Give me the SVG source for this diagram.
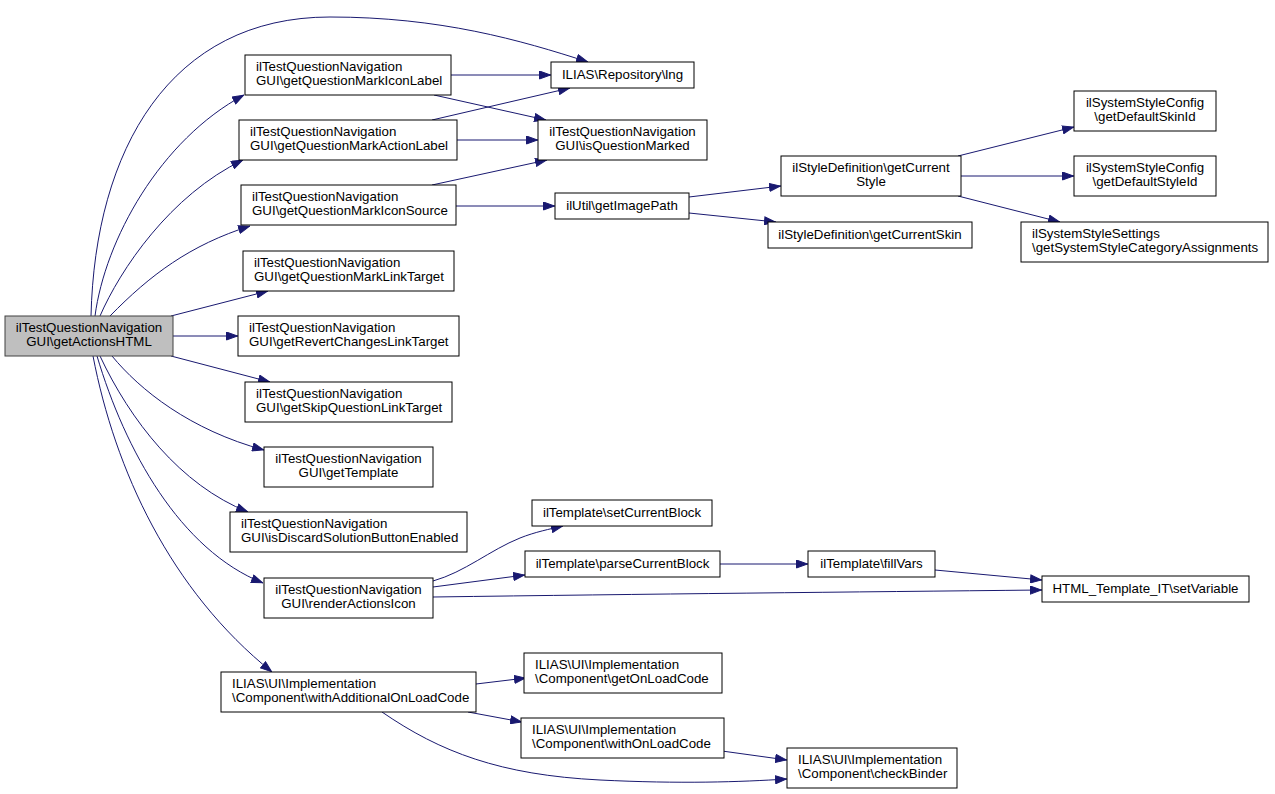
<svg xmlns="http://www.w3.org/2000/svg" width="1275" height="794" viewBox="0 0 1275 794">
<style>
.n rect{fill:#fff;stroke:#000;stroke-width:1}
.n.root rect{fill:#bfbfbf;stroke:#404040}
.n text{font-family:"Liberation Sans",Arial,sans-serif;font-size:13.3px;fill:#000}
.c{text-anchor:middle}
.e path{fill:none;stroke:#191970;stroke-width:1;marker-end:url(#ah)}
</style>
<defs>
<marker id="ah" markerUnits="userSpaceOnUse" markerWidth="12" markerHeight="9" refX="12" refY="4.5" orient="auto">
<path d="M0.5,0.5 L11.5,4.5 L0.5,8.5 z" fill="#191970" stroke="#191970" stroke-width="1"/>
</marker>
</defs>
<rect width="1275" height="794" fill="#fff"/>
<g id="edges" class="e">
<path d="M 91,316 C 95,150 170,17 330,17 C 440,17 520,40 588,62"/>
<path d="M 95,316 C 105,240 160,140 244,95"/>
<path d="M 100,316 C 120,270 170,195 243,160"/>
<path d="M 110,316 C 150,275 190,245 250,226"/>
<path d="M 171,316 L 268,291"/>
<path d="M 173,336 L 238,336"/>
<path d="M 171,356 L 270,382"/>
<path d="M 112,356 C 140,390 190,430 264,450"/>
<path d="M 100,356 C 130,420 180,485 248,512"/>
<path d="M 97,356 C 125,450 180,550 263,583"/>
<path d="M 93,356 C 115,470 170,590 272,672"/>
<path d="M 451,75 L 551,75"/>
<path d="M 434,95 L 546,120"/>
<path d="M 432,120 L 570,88"/>
<path d="M 457,140 L 538,140"/>
<path d="M 432,185 L 547,160"/>
<path d="M 456,206 L 555,206"/>
<path d="M 689,197 L 781,186"/>
<path d="M 689,213 L 776,222"/>
<path d="M 958,156 L 1074,127"/>
<path d="M 961,176 L 1074,176"/>
<path d="M 958,196 L 1060,222"/>
<path d="M 433,581 C 465,572 490,550 520,538 C 535,532 550,529 563,526"/>
<path d="M 433,587 L 525,575"/>
<path d="M 433,597 C 650,594 850,592 1042,590"/>
<path d="M 720,564 L 808,564"/>
<path d="M 935,570 L 1042,580"/>
<path d="M 476,684 L 526,678"/>
<path d="M 468,712 L 522,722"/>
<path d="M 382,712 C 440,752 500,775 600,780 C 680,784 740,782 787,779"/>
<path d="M 722,751 L 787,760"/>
</g>
<g id="getActionsHTML" class="n root"><rect x="5" y="316" width="168" height="40"/><text class="c" x="89" y="332.3">ilTestQuestionNavigation</text><text class="c" x="89" y="346.3">GUI\getActionsHTML</text></g>
<g id="getQuestionMarkIconLabel" class="n"><rect x="245" y="55" width="206" height="40"/><text x="256" y="71.3">ilTestQuestionNavigation</text><text x="256" y="85.3">GUI\getQuestionMarkIconLabel</text></g>
<g id="getQuestionMarkActionLabel" class="n"><rect x="239" y="120" width="218" height="40"/><text x="250" y="136.3">ilTestQuestionNavigation</text><text x="250" y="150.3">GUI\getQuestionMarkActionLabel</text></g>
<g id="getQuestionMarkIconSource" class="n"><rect x="241" y="185" width="215" height="40"/><text x="252" y="201.3">ilTestQuestionNavigation</text><text x="252" y="215.3">GUI\getQuestionMarkIconSource</text></g>
<g id="getQuestionMarkLinkTarget" class="n"><rect x="243" y="251" width="211" height="40"/><text x="254" y="267.3">ilTestQuestionNavigation</text><text x="254" y="281.3">GUI\getQuestionMarkLinkTarget</text></g>
<g id="getRevertChangesLinkTarget" class="n"><rect x="238" y="316" width="221" height="40"/><text x="249" y="332.3">ilTestQuestionNavigation</text><text x="249" y="346.3">GUI\getRevertChangesLinkTarget</text></g>
<g id="getSkipQuestionLinkTarget" class="n"><rect x="245" y="382" width="207" height="40"/><text x="256" y="398.3">ilTestQuestionNavigation</text><text x="256" y="412.3">GUI\getSkipQuestionLinkTarget</text></g>
<g id="getTemplate" class="n"><rect x="264" y="447" width="169" height="40"/><text class="c" x="348.5" y="463.3">ilTestQuestionNavigation</text><text class="c" x="348.5" y="477.3">GUI\getTemplate</text></g>
<g id="isDiscardSolutionButtonEnabled" class="n"><rect x="230" y="512" width="237" height="40"/><text x="241" y="528.3">ilTestQuestionNavigation</text><text x="241" y="542.3">GUI\isDiscardSolutionButtonEnabled</text></g>
<g id="renderActionsIcon" class="n"><rect x="264" y="578" width="169" height="40"/><text class="c" x="348.5" y="594.3">ilTestQuestionNavigation</text><text class="c" x="348.5" y="608.3">GUI\renderActionsIcon</text></g>
<g id="withAdditionalOnLoadCode" class="n"><rect x="221" y="672" width="255" height="40"/><text x="232" y="688.3">ILIAS\UI\Implementation</text><text x="232" y="702.3">\Component\withAdditionalOnLoadCode</text></g>
<g id="lng" class="n"><rect x="551" y="62" width="143" height="26"/><text class="c" x="622.5" y="79">ILIAS\Repository\lng</text></g>
<g id="isQuestionMarked" class="n"><rect x="538" y="120" width="169" height="40"/><text class="c" x="622.5" y="136.3">ilTestQuestionNavigation</text><text class="c" x="622.5" y="150.3">GUI\isQuestionMarked</text></g>
<g id="getImagePath" class="n"><rect x="555" y="193" width="134" height="26"/><text class="c" x="622" y="210">ilUtil\getImagePath</text></g>
<g id="setCurrentBlock" class="n"><rect x="532" y="500" width="180" height="26"/><text class="c" x="622" y="517">ilTemplate\setCurrentBlock</text></g>
<g id="parseCurrentBlock" class="n"><rect x="525" y="551" width="195" height="26"/><text class="c" x="622.5" y="568">ilTemplate\parseCurrentBlock</text></g>
<g id="getOnLoadCode" class="n"><rect x="524" y="653" width="198" height="40"/><text x="535" y="669.3">ILIAS\UI\Implementation</text><text x="535" y="683.3">\Component\getOnLoadCode</text></g>
<g id="withOnLoadCode" class="n"><rect x="521" y="718" width="203" height="40"/><text x="532" y="734.3">ILIAS\UI\Implementation</text><text x="532" y="748.3">\Component\withOnLoadCode</text></g>
<g id="getCurrentStyle" class="n"><rect x="781" y="156" width="180" height="40"/><text class="c" x="871" y="172.3">ilStyleDefinition\getCurrent</text><text class="c" x="871" y="186.3">Style</text></g>
<g id="getCurrentSkin" class="n"><rect x="768" y="222" width="204" height="26"/><text class="c" x="870" y="239">ilStyleDefinition\getCurrentSkin</text></g>
<g id="fillVars" class="n"><rect x="808" y="551" width="127" height="26"/><text class="c" x="871.5" y="568">ilTemplate\fillVars</text></g>
<g id="checkBinder" class="n"><rect x="787" y="748" width="170" height="40"/><text x="798" y="764.3">ILIAS\UI\Implementation</text><text x="798" y="778.3">\Component\checkBinder</text></g>
<g id="getDefaultSkinId" class="n"><rect x="1074" y="91" width="142" height="40"/><text class="c" x="1145" y="107.3">ilSystemStyleConfig</text><text class="c" x="1145" y="121.3">\getDefaultSkinId</text></g>
<g id="getDefaultStyleId" class="n"><rect x="1074" y="156" width="142" height="40"/><text class="c" x="1145" y="172.3">ilSystemStyleConfig</text><text class="c" x="1145" y="186.3">\getDefaultStyleId</text></g>
<g id="getSystemStyleCategoryAssignments" class="n"><rect x="1021" y="222" width="247" height="40"/><text x="1032" y="238.3">ilSystemStyleSettings</text><text x="1032" y="252.3">\getSystemStyleCategoryAssignments</text></g>
<g id="setVariable" class="n"><rect x="1042" y="576" width="207" height="26"/><text class="c" x="1145.5" y="593">HTML_Template_IT\setVariable</text></g>
</svg>
